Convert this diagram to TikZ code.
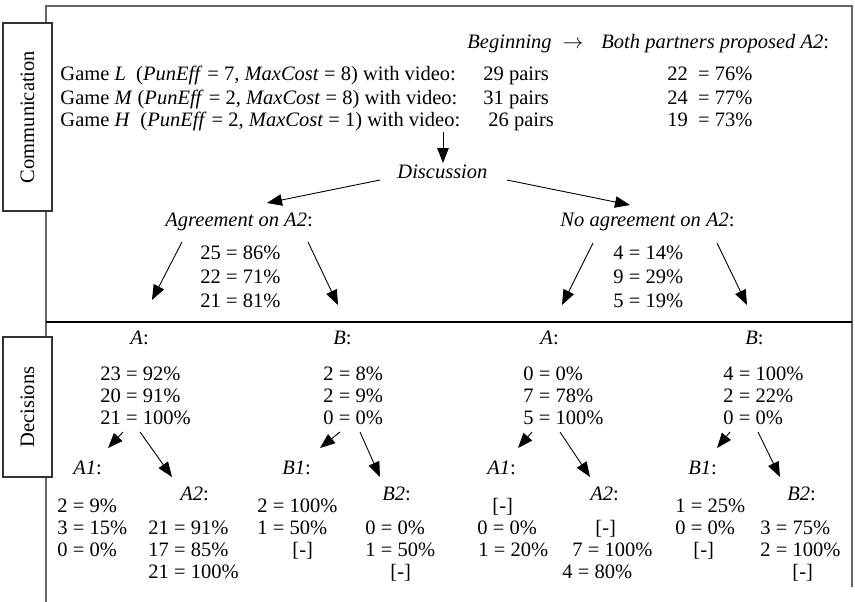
\documentclass[tikz,border=0pt]{standalone}
\usepackage{fontspec}
\setmainfont{Liberation Serif}
\usetikzlibrary{arrows.meta}

\begin{document}
\begin{tikzpicture}[x=1pt, y=-1pt, font=\fontsize{20.5}{24}\selectfont,
    >={Triangle[length=15pt, width=11.5pt]}, line width=0.9pt,
    txt/.style={anchor=base west, inner sep=0pt},
    sidebox/.style={draw=black!80, line width=1.2pt, fill=white, rotate=90, minimum height=49pt, inner sep=0pt},
    frame/.style={draw=black!60, line width=1.6pt}]
    \useasboundingbox (0,0) rectangle (855,602);

    % Outer frame and divider
    \draw[frame] (46,602) -- (46,6) -- (852,6) -- (852,587);
    \draw[line width=1.3pt] (46,322) -- (852,322);

    % Side labels
    \node[sidebox, minimum width=188pt] (comm) at (27.5,117) {Communication};
    \node[sidebox, minimum width=140pt] (dec) at (27.5,407) {Decisions};

    % Header and the three games
    \node[txt] (head) at (467,49) {\textit{Beginning}\hspace{11pt}$\rightarrow$\hspace{18pt}\textit{Both partners proposed A2}:};
    \node[txt] (gameL) at (60,81) {Game \textit{L}\ \ (\textit{PunEff} = 7, \textit{MaxCost} = 8) with video:};
    \node[txt] (gameM) at (60,104) {Game \textit{M} (\textit{PunEff} = 2, \textit{MaxCost} = 8) with video:};
    \node[txt] (gameH) at (60,127) {Game \textit{H}\ \ (\textit{PunEff} = 2, \textit{MaxCost} = 1) with video:};
    \node[txt] (pairsL) at (483,81) {29 pairs};
    \node[txt] (pairsM) at (483,104) {31 pairs};
    \node[txt] (pairsH) at (488,127) {26 pairs};
    \node[txt] (propL) at (667,81) {22\ \ = 76\%};
    \node[txt] (propM) at (667,104) {24\ \ = 77\%};
    \node[txt] (propH) at (667,127) {19\ \ = 73\%};

    % Discussion and its two outcomes
    \node[txt] (disc) at (397,178) {\textit{Discussion}};
    \node[txt] (agr) at (165,226) {\textit{Agreement on A2}:};
    \node[txt] (noagr) at (560,226) {\textit{No agreement on A2}:};
    \node[txt] (agr1) at (200,259) {25 = 86\%};
    \node[txt] (agr2) at (200,283) {22 = 71\%};
    \node[txt] (agr3) at (200,307) {21 = 81\%};
    \node[txt] (noagr1) at (613,259) {4 = 14\%};
    \node[txt] (noagr2) at (613,283) {9 = 29\%};
    \node[txt] (noagr3) at (613,307) {5 = 19\%};

    \draw[->] ([shift={(383,5)}]gameH.base west) -- ([shift={(46,-15)}]disc.base west);
    \draw[->] ([shift={(-17,2)}]disc.base west) -- ([shift={(102,-23)}]agr.base west);
    \draw[->] ([shift={(110,2)}]disc.base west) -- ([shift={(70,-21)}]noagr.base west);

    % Decisions after agreement
    \node[txt] (yA) at (130,344) {\textit{A}:};
    \node[txt] (yB) at (333,344) {\textit{B}:};
    \node[txt] (yA1) at (100,380) {23 = 92\%};
    \node[txt] (yA2) at (100,402) {20 = 91\%};
    \node[txt] (yA3) at (100,424) {21 = 100\%};
    \node[txt] (yB1) at (323,380) {2 = 8\%};
    \node[txt] (yB2) at (323,402) {2 = 9\%};
    \node[txt] (yB3) at (323,424) {0 = 0\%};
    \node[txt] (yAone) at (73,474) {\textit{A1}:};
    \node[txt] (yAtwo) at (180,500) {\textit{A2}:};
    \node[txt] (yBone) at (282,474) {\textit{B1}:};
    \node[txt] (yBtwo) at (382,500) {\textit{B2}:};
    \node[txt] (yAone1) at (57,512) {2 = 9\%};
    \node[txt] (yAone2) at (57,534) {3 = 15\%};
    \node[txt] (yAone3) at (57,556) {0 = 0\%};
    \node[txt] (yAtwo1) at (148,534) {21 = 91\%};
    \node[txt] (yAtwo2) at (148,556) {17 = 85\%};
    \node[txt] (yAtwo3) at (148,578) {21 = 100\%};
    \node[txt] (yBone1) at (257,512) {2 = 100\%};
    \node[txt] (yBone2) at (257,534) {1 = 50\%};
    \node[txt] (yBone3) at (292,556) {[-]};
    \node[txt] (yBtwo1) at (365,534) {0 = 0\%};
    \node[txt] (yBtwo2) at (365,556) {1 = 50\%};
    \node[txt] (yBtwo3) at (390,578) {[-]};

    % Decisions without agreement
    \node[txt] (nA) at (540,344) {\textit{A}:};
    \node[txt] (nB) at (745,344) {\textit{B}:};
    \node[txt] (nA1) at (523,380) {0 = 0\%};
    \node[txt] (nA2) at (523,402) {7 = 78\%};
    \node[txt] (nA3) at (523,424) {5 = 100\%};
    \node[txt] (nB1) at (723,380) {4 = 100\%};
    \node[txt] (nB2) at (723,402) {2 = 22\%};
    \node[txt] (nB3) at (723,424) {0 = 0\%};
    \node[txt] (nAone) at (487,474) {\textit{A1}:};
    \node[txt] (nAtwo) at (590,500) {\textit{A2}:};
    \node[txt] (nBone) at (688,474) {\textit{B1}:};
    \node[txt] (nBtwo) at (787,500) {\textit{B2}:};
    \node[txt] (nAone1) at (492,512) {[-]};
    \node[txt] (nAone2) at (477,534) {0 = 0\%};
    \node[txt] (nAone3) at (478,556) {1 = 20\%};
    \node[txt] (nAtwo1) at (595,534) {[-]};
    \node[txt] (nAtwo2) at (572,556) {7 = 100\%};
    \node[txt] (nAtwo3) at (562,578) {4 = 80\%};
    \node[txt] (nBone1) at (675,512) {1 = 25\%};
    \node[txt] (nBone2) at (675,534) {0 = 0\%};
    \node[txt] (nBone3) at (693,556) {[-]};
    \node[txt] (nBtwo1) at (760,534) {3 = 75\%};
    \node[txt] (nBtwo2) at (760,556) {2 = 100\%};
    \node[txt] (nBtwo3) at (792,578) {[-]};

    % Arrows into the decisions
    \draw[->] ([shift={(-18,-17)}]agr1.base west) -- ([shift={(22,-44)}]yA.base west);
    \draw[->] ([shift={(108,-17)}]agr1.base west) -- ([shift={(5,-39)}]yB.base west);
    \draw[->] ([shift={(-20,-16)}]noagr1.base west) -- ([shift={(22,-39)}]nA.base west);
    \draw[->] ([shift={(104,-16)}]noagr1.base west) -- ([shift={(2,-39)}]nB.base west);

    \draw[->] ([shift={(23,8)}]yA3.base west) -- ([shift={(35,-26)}]yAone.base west);
    \draw[->] ([shift={(40,8)}]yA3.base west) -- ([shift={(-8,-23)}]yAtwo.base west);
    \draw[->] ([shift={(17,8)}]yB3.base west) -- ([shift={(38,-26)}]yBone.base west);
    \draw[->] ([shift={(37,8)}]yB3.base west) -- ([shift={(-2,-23)}]yBtwo.base west);
    \draw[->] ([shift={(9,8)}]nA3.base west) -- ([shift={(31,-26)}]nAone.base west);
    \draw[->] ([shift={(37,8)}]nA3.base west) -- ([shift={(0,-23)}]nAtwo.base west);
    \draw[->] ([shift={(7,8)}]nB3.base west) -- ([shift={(29,-26)}]nBone.base west);
    \draw[->] ([shift={(35,8)}]nB3.base west) -- ([shift={(-7,-23)}]nBtwo.base west);
\end{tikzpicture}
\end{document}
